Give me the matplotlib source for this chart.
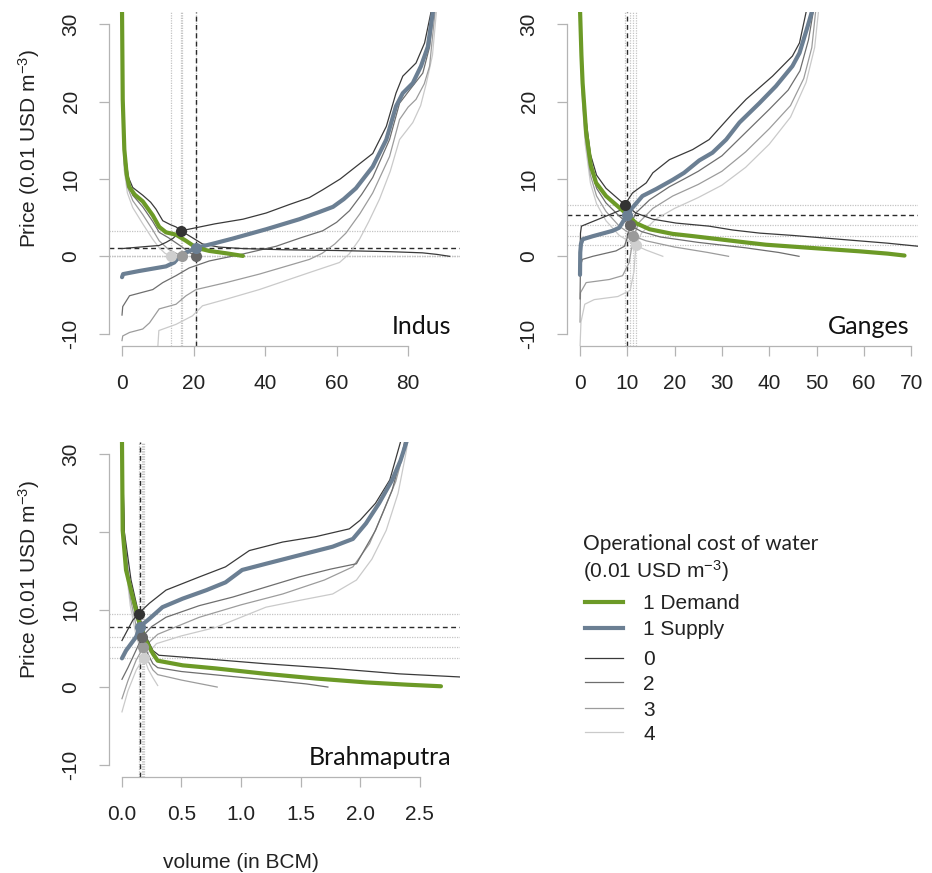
import numpy as np
import matplotlib.pyplot as plt
from matplotlib.lines import Line2D

plt.rcParams['font.family'] = ['Liberation Sans', 'DejaVu Sans']
plt.rcParams['mathtext.fontset'] = 'custom'
plt.rcParams['mathtext.rm'] = 'Liberation Sans'
plt.rcParams['mathtext.it'] = 'Liberation Sans:italic'
plt.rcParams['mathtext.bf'] = 'Liberation Sans:bold'
plt.rcParams['axes.unicode_minus'] = False

# operational cost levels (0.01 USD m-3)
costs = [0, 1, 2, 3, 4]

# ---- Indus: (volume BCM, price) ----
indus_demand_0 = [(0, 32), (0.3, 20), (0.8, 13.5), (1.8, 10.2), (3, 8.9), (5.8, 7.9), (8, 7.0), (9.5, 6.1),
                  (11.4, 4.6), (13.5, 4.1), (15.1, 3.8), (16.5, 3.3), (19.7, 2.4), (22.5, 1.6), (27, 1.2),
                  (33.8, 1.0), (45, 0.85), (60, 0.75), (75, 0.6), (84, 0.45), (88, 0.25), (91.6, 0)]
indus_demand_1 = [(0, 32), (0.2, 20.3), (0.65, 13.8), (1.3, 10.6), (2, 9.0), (3.5, 8.0), (5.8, 7.1), (8.6, 5.3),
                  (10.4, 3.8), (12.3, 3.1), (15.1, 2.8), (17.9, 2.0), (20.8, 1.1), (24.4, 0.7), (29, 0.4),
                  (33.8, 0.05)]
indus_demand_2 = [(0, 32), (0.2, 19), (0.6, 13), (1.5, 9.7), (3, 7.9), (5.8, 6.4), (8.6, 4.5), (10.4, 3.1),
                  (13, 2.4), (16.5, 1.3), (18.8, 0.5), (20.8, 0)]
indus_demand_3 = [(0, 32), (0.2, 18), (0.6, 12), (1.5, 9.0), (3, 7.2), (5.8, 5.4), (8.6, 3.4), (10.4, 2.0),
                  (13, 0.9), (15.5, 0.3), (17, 0)]
indus_demand_4 = [(0, 32), (0.2, 17), (0.6, 11.2), (1.5, 8.2), (3, 6.3), (5.8, 4.2), (8.6, 2.2), (10.4, 1.1),
                  (12, 0.4), (13.7, 0)]
indus_supply_0 = [(0, 1.0), (7.6, 1.3), (10.4, 1.4), (12.3, 1.8), (14.2, 2.3), (16.5, 3.3), (20.7, 3.7), (26, 4.2),
                  (33.8, 4.8), (40.3, 5.6), (46.8, 6.7), (52.4, 7.6), (56.1, 8.6), (61, 10), (65.4, 11.6),
                  (70.1, 13.3), (73.9, 16.8), (76.6, 21.1), (78.5, 23.3), (82.2, 25), (84.6, 27.6),
                  (86.4, 31.6), (86.8, 33)]
indus_supply_1 = [(0, -2.7), (0.3, -2.3), (4.8, -1.9), (12.3, -1.3), (14.6, -0.8), (16.5, 0.2), (18, 0.5),
                  (20.8, 1.1), (26, 1.7), (31, 2.3), (40.3, 3.5), (49.6, 4.8), (55, 5.7), (59, 6.4), (62, 7.4),
                  (65.4, 8.8), (70.1, 11.6), (73.9, 15.1), (76.6, 19.4), (78.5, 21.1), (81.3, 22.4),
                  (83.6, 24.6), (85.5, 27.1), (86.9, 31.6), (87.3, 33)]
indus_supply_2 = [(0, -7.6), (0.2, -6.5), (2.1, -5.1), (8.6, -4.3), (11.4, -3.4), (15.1, -2.5), (18.8, -1.5),
                  (24.4, -0.6), (33.8, 0.3), (43.1, 1.3), (50, 2.4), (56.1, 3.3), (60, 4.4), (63.6, 5.9),
                  (67, 8), (70.1, 10.2), (74.8, 15.1), (77.6, 19.8), (80.4, 21.5), (84.1, 23.7), (86, 27.1),
                  (87.1, 31.6), (87.4, 33)]
indus_supply_3 = [(0, -10.9), (0.2, -10.3), (2.1, -9.85), (5.8, -9.4), (7.7, -8.6), (10.4, -6.8), (15.1, -6.2),
                  (17.9, -5.1), (20.7, -4.3), (29.1, -3.4), (38.4, -2.3), (52.4, -0.4), (56, 0.4), (59.5, 1.6),
                  (62.6, 3.0), (66.5, 5.5), (70.1, 8.2), (74.8, 12.9), (77.6, 17.7), (80, 19.3), (82.2, 20.3),
                  (84.5, 22.3), (86, 24.6), (87.5, 31.6), (87.8, 33)]
indus_supply_4 = [(10, -11.8), (10.3, -9.6), (15.1, -8.8), (19.7, -7.7), (22.5, -6.4), (29.1, -5.55),
                  (38.4, -4.3), (52.4, -2.1), (60.8, -0.8), (63.5, 0.3), (66.4, 2.2), (69, 4.5), (72, 7.4),
                  (75, 11), (77.6, 15.1), (81.3, 17.3), (83.5, 19.5), (85.1, 22.4), (86.8, 26), (87.9, 31.6),
                  (88.2, 33)]
indus_eq_x = [16.5, 20.8, 20.8, 16.9, 13.7]
indus_eq_p = [3.3, 1.1, 0.0, 0.0, 0.0]

# ---- Ganges ----
ganges_demand_0 = [(0, 32), (0.4, 25), (1.1, 18.5), (2.2, 13.2), (3.5, 10.5), (5.5, 8.8), (8.3, 7.3), (9.5, 6.7),
                   (11.8, 5.6), (15.4, 4.8), (20.3, 4.3), (27.3, 3.9), (32.3, 3.4), (38, 3.0), (45, 2.7),
                   (55, 2.2), (65, 1.7), (71.5, 1.3)]
ganges_demand_1 = [(0, 32), (0.3, 26), (0.55, 22.4), (1.3, 16), (2.3, 11.7), (3.4, 9.5), (5.5, 7.8), (8.3, 6.3),
                   (10.0, 5.4), (11.8, 4.3), (14.7, 3.5), (19.6, 2.9), (24, 2.6), (29.5, 2.2), (35, 1.8),
                   (39.3, 1.5), (48.5, 1.1), (59, 0.65), (65, 0.35), (68.6, 0.1)]
ganges_demand_2 = [(0, 32), (0.4, 23), (1.1, 16.5), (2.2, 11.5), (3.5, 8.8), (5.5, 6.9), (8.3, 5.2), (10.6, 4.0),
                   (13, 3.2), (17, 2.5), (25, 1.8), (35, 1.1), (42, 0.5), (46.3, 0)]
ganges_demand_3 = [(0, 32), (0.4, 22), (1.1, 15.5), (2.2, 10.5), (3.5, 7.8), (5.5, 5.8), (8.3, 3.9), (11.3, 2.6),
                   (14, 2.0), (20, 1.2), (27, 0.5), (31.4, 0)]
ganges_demand_4 = [(0, 32), (0.4, 21), (1.1, 14.5), (2.2, 9.5), (3.5, 6.8), (5.5, 4.6), (8.3, 2.7), (11.8, 1.4),
                   (14, 0.8), (17.5, 0)]
ganges_supply_0 = [(0, -0.5), (0.1, 3.0), (0.3, 3.9), (3.9, 4.8), (8.3, 5.9), (9.5, 6.7), (11.1, 8.2), (14, 9.5),
                   (15.4, 10.8), (18.9, 12.5), (23.8, 13.8), (27.3, 15.1), (32.3, 18.5), (35.1, 20.3),
                   (40.7, 23.3), (44.9, 25.9), (46.4, 27.6), (47.8, 31.6), (48.1, 33)]
ganges_supply_1 = [(0, -2.4), (0.05, 0.5), (0.2, 1.6), (0.55, 2.2), (2.7, 2.6), (6.9, 3.3), (8.3, 3.7), (9.4, 4.8),
                   (10.0, 5.4), (11.1, 6.3), (13.2, 7.8), (16.1, 8.7), (19.6, 9.9), (22, 10.8), (25.2, 12.4),
                   (28, 13.4), (30.9, 15.1), (33.7, 17.3), (37.9, 19.8), (41.4, 22), (44.9, 24.6), (46.4, 26.3),
                   (48.1, 29.7), (49, 31.6), (49.3, 33)]
ganges_supply_2 = [(0, -5.5), (0.1, -1.2), (0.5, -0.4), (2.7, 0.0), (7.6, 0.7), (9.4, 1.3), (10.2, 2.8),
                   (10.6, 4.0), (11.8, 5.6), (14.7, 7.3), (18.9, 9.0), (22, 10), (25, 11), (30, 13), (35, 16),
                   (40, 19), (44, 21.5), (46.5, 24), (48.3, 28), (49.3, 31.6), (49.6, 33)]
ganges_supply_3 = [(0, -8.5), (0.1, -4.7), (1.3, -3.4), (6.2, -3.0), (9, -2.5), (10.4, -0.8), (11.3, 2.6),
                   (12.5, 4.4), (15.4, 6.2), (19.6, 7.8), (25, 9.3), (30, 11), (35, 13.5), (40, 16.5),
                   (44.5, 19.5), (47.3, 23), (49, 27), (49.8, 31.6), (50.1, 33)]
ganges_supply_4 = [(0, -11.8), (0.2, -8.5), (1.0, -6.2), (3, -5.6), (8, -5.2), (10.6, -4.4), (11.4, -2),
                   (11.8, 1.4), (13, 3.0), (16, 4.8), (20, 6.2), (25, 7.6), (30, 9.2), (35, 11.5), (40, 14.5),
                   (44.5, 18), (47.8, 22.5), (49.6, 27), (50.4, 31.6), (50.7, 33)]
ganges_eq_x = [9.5, 10.0, 10.6, 11.3, 11.8]
ganges_eq_p = [6.7, 5.3, 4.0, 2.6, 1.4]

# ---- Brahmaputra ----
brahma_demand_0 = [(0, 32), (0.02, 20), (0.076, 13.8), (0.12, 10.8), (0.14, 9.5), (0.19, 6.9), (0.26, 4.7),
                   (0.31, 4.1), (0.65, 3.7), (1.21, 3.0), (1.77, 2.4), (2.33, 1.7), (2.84, 1.3)]
brahma_demand_1 = [(0, 32), (0.006, 20.2), (0.034, 15.1), (0.09, 11.6), (0.151, 8.0), (0.2, 6.0), (0.26, 4.3),
                   (0.3, 3.4), (0.37, 3.2), (0.51, 2.8), (0.79, 2.4), (1.21, 1.7), (1.63, 1.1), (2.05, 0.6),
                   (2.4, 0.3), (2.68, 0.1)]
brahma_demand_2 = [(0, 32), (0.02, 19), (0.07, 12.5), (0.12, 9.0), (0.17, 6.5), (0.21, 4.5), (0.26, 3.0),
                   (0.3, 2.5), (0.5, 2.0), (0.9, 1.4), (1.3, 0.8), (1.55, 0.4), (1.73, 0)]
brahma_demand_3 = [(0, 32), (0.02, 18), (0.07, 11.5), (0.12, 7.8), (0.18, 5.1), (0.21, 3.6), (0.26, 2.2),
                   (0.3, 1.6), (0.5, 0.9), (0.7, 0.3), (0.8, 0)]
brahma_demand_4 = [(0, 32), (0.02, 17), (0.07, 10.5), (0.12, 6.5), (0.185, 3.8), (0.22, 2.3), (0.26, 1.2),
                   (0.3, 0.2)]
brahma_supply_0 = [(0, 6.0), (0.09, 8.6), (0.14, 9.5), (0.23, 10.8), (0.37, 12.5), (0.65, 14.2), (0.87, 15.5),
                   (1.07, 17.6), (1.35, 18.7), (1.63, 19.4), (1.91, 20.4), (2.0, 21.5), (2.13, 23.7),
                   (2.25, 26.7), (2.34, 31.6), (2.36, 33)]
brahma_supply_1 = [(0, 3.7), (0.034, 4.7), (0.12, 6.5), (0.151, 7.8), (0.23, 8.8), (0.34, 10.3), (0.51, 11.4),
                   (0.71, 12.5), (0.87, 13.5), (1.01, 15.1), (1.21, 15.9), (1.49, 17), (1.77, 18.1),
                   (1.94, 19.1), (2.05, 21.1), (2.16, 23.7), (2.27, 26.7), (2.34, 29.2), (2.39, 31.6), (2.41, 33)]
brahma_supply_2 = [(0, 1.0), (0.05, 2.5), (0.12, 4.8), (0.17, 6.5), (0.25, 7.8), (0.37, 9.0), (0.65, 10.5),
                   (0.93, 11.6), (1.21, 12.9), (1.49, 14.2), (1.75, 15.2), (1.97, 15.9), (2.13, 20.2),
                   (2.27, 25.4), (2.36, 30.5), (2.39, 33)]
brahma_supply_3 = [(0, -1.5), (0.05, 0.8), (0.12, 3.5), (0.18, 5.1), (0.3, 6.8), (0.65, 9.0), (1.0, 10.6),
                   (1.35, 12.0), (1.7, 13.8), (1.94, 15.5), (2.08, 18.5), (2.19, 22.4), (2.3, 26.5),
                   (2.39, 31.6), (2.42, 33)]
brahma_supply_4 = [(0, -3.2), (0.05, -0.5), (0.12, 2.2), (0.185, 3.8), (0.29, 5.6), (0.5, 6.6), (0.79, 7.7),
                   (1.0, 9.0), (1.21, 10.3), (1.5, 11.2), (1.77, 12.0), (1.97, 13.8), (2.1, 16.5), (2.22, 20.2),
                   (2.32, 25), (2.39, 30.5), (2.41, 33)]
brahma_eq_x = [0.14, 0.151, 0.168, 0.178, 0.185]
brahma_eq_p = [9.4, 7.8, 6.5, 5.1, 3.8]

legend_labels = ['1 Demand', '1 Supply', '0', '2', '3', '4']

# styles
green = '#6c9a27'
slate = '#6b7f93'
thin_cols = {0: '#3a3a3a', 2: '#6e6e6e', 3: '#9c9c9c', 4: '#cacaca'}
dot_cols = ['#333333', slate, '#666666', '#9a9a9a', '#cfcfcf']
axis_col = '#b4b4b4'
text_col = '#222222'


def draw_panel(ax, demand, supply, eq_x, eq_p, xlim, xticks, xfmt, name):
    # equilibrium guide lines
    for i in [0, 2, 3, 4]:
        ax.axvline(eq_x[i], color='#c4c4c4', lw=0.9, ls=(0, (1, 1)), zorder=1)
        ax.axhline(eq_p[i], color='#c4c4c4', lw=0.9, ls=(0, (1, 1)), zorder=1)
    ax.axvline(eq_x[1], color='#2b2b2b', lw=1.0, ls=(0, (3.5, 2.5)), zorder=1.5)
    ax.axhline(eq_p[1], color='#2b2b2b', lw=1.0, ls=(0, (3.5, 2.5)), zorder=1.5)

    for i in [4, 3, 2, 0]:
        for curve in (demand[i], supply[i]):
            xs, ys = zip(*curve)
            ax.plot(xs, ys, color=thin_cols[i], lw=0.9, zorder=2)
    xs, ys = zip(*supply[1])
    ax.plot(xs, ys, color=slate, lw=3.0, zorder=3, solid_capstyle='round')
    xs, ys = zip(*demand[1])
    ax.plot(xs, ys, color=green, lw=3.0, zorder=3, solid_capstyle='round')

    for i in [4, 3, 2, 1, 0]:
        ax.plot(eq_x[i], eq_p[i], 'o', ms=8, color=dot_cols[i], mec='none', zorder=5)

    ax.set_xlim(*xlim)
    ax.set_ylim(-11.6, 31.6)
    ax.set_xticks(xticks)
    ax.set_xticklabels([xfmt.format(t) for t in xticks])
    ax.set_yticks([-10, 0, 10, 20, 30])
    for side in ['top', 'right']:
        ax.spines[side].set_visible(False)
    for side in ['left', 'bottom']:
        ax.spines[side].set_color(axis_col)
        ax.spines[side].set_linewidth(0.9)
    ax.spines['left'].set_bounds(-10, 30)
    ax.spines['bottom'].set_bounds(xticks[0], xticks[-1])
    ax.tick_params(axis='both', colors=axis_col, labelcolor=text_col, length=7.5, width=0.9,
                   labelsize=15, pad=13)
    ax.tick_params(axis='y', labelrotation=90)
    for lab in ax.get_yticklabels():
        lab.set_va('center')
    ax.patch.set_alpha(0)
    ax.text(0.975, 0.037, name, transform=ax.transAxes, ha='right', va='baseline',
            fontsize=18, family=['Lato', 'DejaVu Sans'], color='#111111')


fig = plt.figure(figsize=(9.32, 8.73), dpi=100)
W, H = 932, 873


def pix_axes(x0, y0, x1, y1):
    return fig.add_axes([x0 / W, 1 - y1 / H, (x1 - x0) / W, (y1 - y0) / H])


ax_i = pix_axes(109, 12, 460, 346)
ax_g = pix_axes(567, 12, 918, 346)
ax_b = pix_axes(109, 442, 460, 777)

draw_panel(ax_i,
           [indus_demand_0, indus_demand_1, indus_demand_2, indus_demand_3, indus_demand_4],
           [indus_supply_0, indus_supply_1, indus_supply_2, indus_supply_3, indus_supply_4],
           indus_eq_x, indus_eq_p, (-3.64, 94.5), [0, 20, 40, 60, 80], '{:.0f}', 'Indus')
draw_panel(ax_g,
           [ganges_demand_0, ganges_demand_1, ganges_demand_2, ganges_demand_3, ganges_demand_4],
           [ganges_supply_0, ganges_supply_1, ganges_supply_2, ganges_supply_3, ganges_supply_4],
           ganges_eq_x, ganges_eq_p, (-2.75, 71.45), [0, 10, 20, 30, 40, 50, 60, 70], '{:.0f}', 'Ganges')
draw_panel(ax_b,
           [brahma_demand_0, brahma_demand_1, brahma_demand_2, brahma_demand_3, brahma_demand_4],
           [brahma_supply_0, brahma_supply_1, brahma_supply_2, brahma_supply_3, brahma_supply_4],
           brahma_eq_x, brahma_eq_p, (-0.109, 2.84), [0, 0.5, 1.0, 1.5, 2.0, 2.5], '{:.1f}', 'Brahmaputra')

ylab = 'Price (0.01 USD m$^{-3}$)'
fig.text(29 / W, 1 - 148 / H, ylab, rotation=90, ha='center', va='center', fontsize=15, color=text_col)
fig.text(29 / W, 1 - 579 / H, ylab, rotation=90, ha='center', va='center', fontsize=15, color=text_col)
fig.text(241 / W, 1 - 862 / H, 'volume (in BCM)', ha='center', va='center', fontsize=15, color=text_col)

# legend drawn in pixel coordinates
lg = fig.add_axes([0, 0, 1, 1])
lg.set_xlim(0, W)
lg.set_ylim(H, 0)
lg.axis('off')
lg.text(583, 550, 'Operational cost of water', ha='left', va='baseline', fontsize=15,
        family=['Lato', 'DejaVu Sans'], color=text_col)
lg.text(583, 578, '(0.01 USD m$^{-3}$)', ha='left', va='baseline', fontsize=15, color=text_col)
leg_y = [601.5, 627.5, 657.5, 682, 708, 732]
leg_cols = [green, slate, thin_cols[0], thin_cols[2], thin_cols[3], thin_cols[4]]
leg_lw = [3.0, 3.0, 0.9, 0.9, 0.9, 0.9]
for lab, yy, c, w in zip(legend_labels, leg_y, leg_cols, leg_lw):
    lg.add_line(Line2D([585, 623], [yy, yy], color=c, lw=w))
    lg.text(643, yy + 7.7, lab, ha='left', va='baseline', fontsize=15, color=text_col)

fig.savefig('out.png', dpi=100)
plt.close(fig)
